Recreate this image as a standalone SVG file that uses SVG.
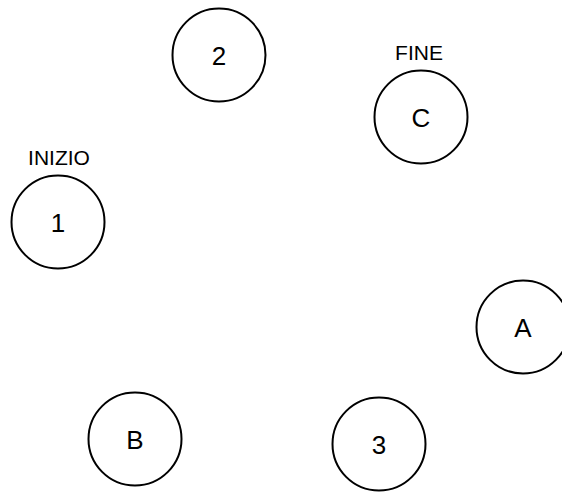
<svg xmlns="http://www.w3.org/2000/svg" width="562" height="494" viewBox="0 0 562 494">
<style>
.n{fill:#fff;stroke:#000;stroke-width:2}
.t{font-family:"Liberation Sans",Arial,sans-serif;font-size:26px;fill:#000;text-anchor:middle}
.l{font-family:"Liberation Sans",Arial,sans-serif;font-size:21px;fill:#000;text-anchor:middle}
</style>
<rect width="562" height="494" fill="#fff"/>
<g id="connectors"></g>
<g id="node-2"><circle class="n" cx="219" cy="55" r="46.5"/><text class="t" x="219" y="64.5">2</text></g>
<g id="node-C"><circle class="n" cx="421" cy="117" r="46.5"/><text class="t" x="421" y="126.5">C</text><text class="l" x="419" y="60">FINE</text></g>
<g id="node-1"><circle class="n" cx="58" cy="222" r="46.5"/><text class="t" x="58" y="231.5">1</text><text class="l" x="59" y="165">INIZIO</text></g>
<g id="node-A"><circle class="n" cx="523" cy="327" r="46.5"/><text class="t" x="523" y="336.5">A</text></g>
<g id="node-B"><circle class="n" cx="135" cy="439" r="46.5"/><text class="t" x="135" y="448.5">B</text></g>
<g id="node-3"><circle class="n" cx="379" cy="444" r="46.5"/><text class="t" x="379" y="453.5">3</text></g>
</svg>
